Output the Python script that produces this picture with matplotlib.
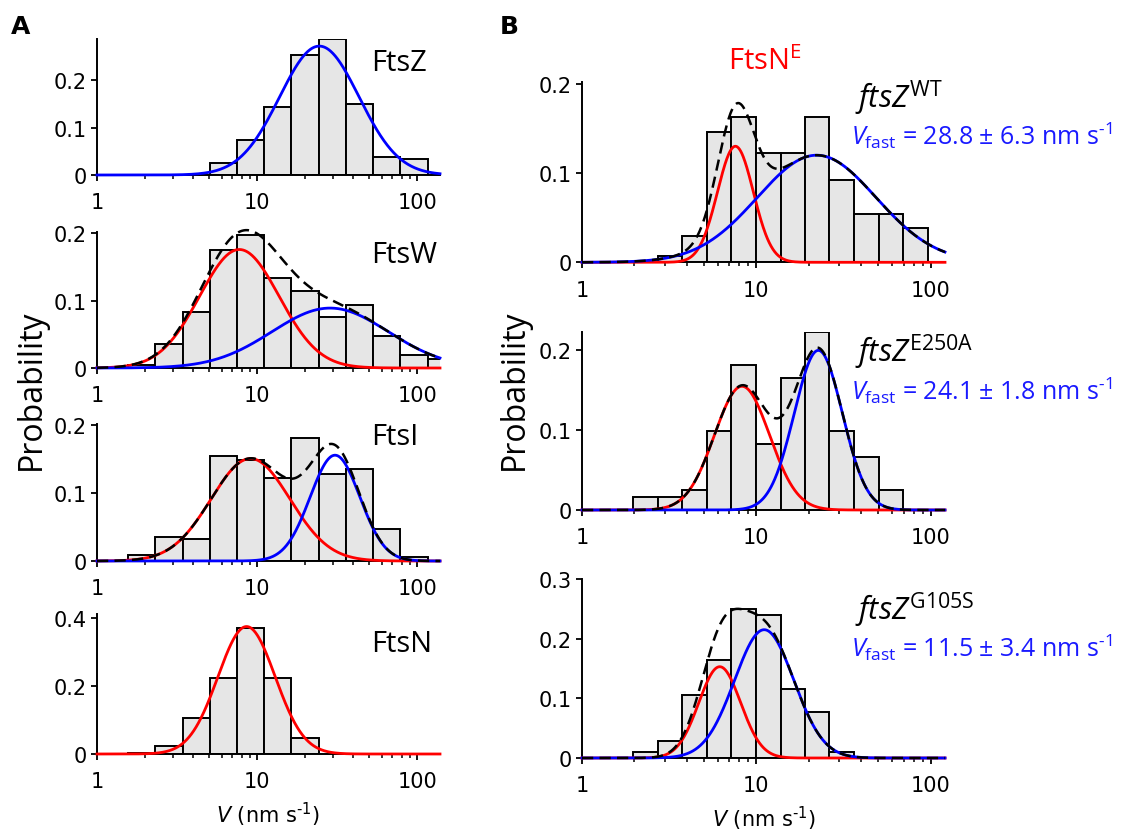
import numpy as np
import matplotlib
matplotlib.use("Agg")
import matplotlib.pyplot as plt
from matplotlib.ticker import FixedLocator, FuncFormatter, NullFormatter

plt.rcParams['font.family'] = ['DejaVu Sans']
plt.rcParams['mathtext.fontset'] = 'custom'
plt.rcParams['mathtext.rm'] = 'Open Sans'
plt.rcParams['mathtext.it'] = 'Open Sans:italic'
plt.rcParams['mathtext.bf'] = 'Open Sans:bold'

# ---------------- data ----------------
# histogram bin edges (nm/s), log-spaced
edges_a = [1.57, 2.32, 3.43, 5.08, 7.51, 11.1, 16.4, 24.3, 35.9, 53.2, 78.6, 116.3, 172.0]
edges_b = [1.97, 2.72, 3.76, 5.20, 7.19, 9.95, 13.8, 19.0, 26.3, 36.4, 50.4, 69.7, 96.4]

# panel A: probability per bin, starting at the given bin index
ftsz_start, ftsz_prob = 3, [0.026, 0.074, 0.143, 0.253, 0.286, 0.150, 0.038, 0.033]
ftsw_start, ftsw_prob = 0, [0.005, 0.035, 0.083, 0.175, 0.198, 0.134, 0.115, 0.076,
                            0.093, 0.048, 0.019, 0.013]
ftsi_start, ftsi_prob = 0, [0.009, 0.035, 0.033, 0.155, 0.149, 0.122, 0.182, 0.128,
                            0.136, 0.047, 0.006]
ftsn_start, ftsn_prob = 0, [0.004, 0.024, 0.106, 0.225, 0.371, 0.225, 0.047]

# panel B: FtsN^E in ftsZ backgrounds
wt_start, wt_prob = 1, [0.0075, 0.030, 0.1465, 0.163, 0.123, 0.122, 0.163, 0.092,
                        0.054, 0.054, 0.038]
e250a_start, e250a_prob = 0, [0.016, 0.016, 0.025, 0.099, 0.182, 0.0825, 0.165, 0.223,
                              0.099, 0.067, 0.025]
g105s_start, g105s_prob = 0, [0.0106, 0.029, 0.106, 0.164, 0.250, 0.240, 0.116, 0.077,
                              0.0106]

# log-normal fit components: (amplitude, centre in nm/s, width in decades)
ftsz_fast = (0.272, 24.5, 0.248)
ftsw_slow, ftsw_fast = (0.176, 7.75, 0.248), (0.089, 28.6, 0.363)
ftsi_slow, ftsi_fast = (0.151, 9.1, 0.246), (0.156, 30.7, 0.155)
ftsn_slow = (0.376, 8.6, 0.179)
wt_slow, wt_fast = (0.130, 7.59, 0.103), (0.120, 22.2, 0.34)
e250a_slow, e250a_fast = (0.155, 8.28, 0.158), (0.200, 22.7, 0.138)
g105s_slow, g105s_fast = (0.153, 6.17, 0.12), (0.215, 11.1, 0.17)

vfast_labels = ["28.8 \u00b1 6.3", "24.1 \u00b1 1.8", "11.5 \u00b1 3.4"]
strain_labels = ["WT", "E250A", "G105S"]

# ---------------- layout ----------------
W, H = 1127, 837
fig = plt.figure(figsize=(W / 100, H / 100), dpi=100)


def px_axes(l, t, r, b):
    return fig.add_axes([l / W, 1 - b / H, (r - l) / W, (b - t) / H])


def ftext(x, y, s, **kw):
    return fig.text(x / W, 1 - y / H, s, **kw)


def component(v, p):
    amp, c, s = p
    return amp * np.exp(-(np.log10(v) - np.log10(c)) ** 2 / (2 * s ** 2))


def draw_panel(ax, edges, start, prob, xmax, ymax, yticks, slow=None, fast=None):
    lefts = np.array(edges[start:start + len(prob)])
    rights = np.array(edges[start + 1:start + 1 + len(prob)])
    ax.bar(lefts, prob, width=rights - lefts, align='edge', color='#e6e6e6',
           edgecolor='black', linewidth=1.4, zorder=2)
    v = np.logspace(0, np.log10(xmax), 600)
    total = np.zeros_like(v)
    if slow is not None:
        y = component(v, slow)
        total += y
        ax.plot(v, y, color='#ff0000', lw=2.0, zorder=3, clip_on=False)
    if fast is not None:
        y = component(v, fast)
        total += y
        ax.plot(v, y, color='#0000ff', lw=2.0, zorder=3.1, clip_on=False)
    if slow is not None and fast is not None:
        ax.plot(v, total, color='black', lw=1.8, ls=(0, (4.5, 2.5)), zorder=3.2,
                clip_on=False)
    ax.set_xscale('log')
    ax.set_xlim(1, xmax)
    ax.set_ylim(0, ymax)
    ax.xaxis.set_major_locator(FixedLocator([1, 10, 100]))
    ax.xaxis.set_major_formatter(FuncFormatter(lambda x, p: f"{x:g}"))
    minors = [m * 10 ** k for k in range(3) for m in range(2, 10) if m * 10 ** k < xmax]
    ax.xaxis.set_minor_locator(FixedLocator(minors))
    ax.xaxis.set_minor_formatter(NullFormatter())
    ax.yaxis.set_major_locator(FixedLocator(yticks))
    ax.yaxis.set_major_formatter(FuncFormatter(lambda y, p: f"{y:g}"))
    for s in ('top', 'right'):
        ax.spines[s].set_visible(False)
    for s in ('left', 'bottom'):
        ax.spines[s].set_linewidth(1.4)
    ax.tick_params(axis='both', which='major', direction='out', length=4.5, width=1.3,
                   labelsize=15, color='black')
    ax.tick_params(axis='x', which='major', pad=8)
    ax.tick_params(axis='y', which='major', pad=3)
    ax.tick_params(axis='x', which='minor', direction='out', length=3, width=1.1)
    ax.patch.set_alpha(0)


label_font = dict(family='Open Sans', fontsize=21, va='baseline', ha='left')

# ---- panel A ----
xa_max = 139
rows_a = [
    ((97, 40, 440, 176), ftsz_start, ftsz_prob, 0.287, [0, 0.1, 0.2], None, ftsz_fast, "FtsZ", 70.7),
    ((97, 233, 440, 369), ftsw_start, ftsw_prob, 0.202, [0, 0.1, 0.2], ftsw_slow, ftsw_fast, "FtsW", 263.3),
    ((97, 425, 440, 562), ftsi_start, ftsi_prob, 0.202, [0, 0.1, 0.2], ftsi_slow, ftsi_fast, "FtsI", 445),
    ((97, 615, 440, 755), ftsn_start, ftsn_prob, 0.413, [0, 0.2, 0.4], ftsn_slow, None, "FtsN", 651.7),
]
for rect, start, prob, ymax, yt, slow, fast, name, base in rows_a:
    ax = px_axes(*rect)
    draw_panel(ax, edges_a, start, prob, xa_max, ymax, yt, slow, fast)
    ftext(371, base, name, **label_font)

# ---- panel B ----
xb_max = 121
rows_b = [
    ((582, 83, 945, 263.3), wt_start, wt_prob, 0.202, [0, 0.1, 0.2], wt_slow, wt_fast, 108, 145),
    ((582, 333, 945, 511), e250a_start, e250a_prob, 0.223, [0, 0.1, 0.2], e250a_slow, e250a_fast, 362, 400),
    ((582, 580, 945, 759), g105s_start, g105s_prob, 0.3, [0, 0.1, 0.2, 0.3], g105s_slow, g105s_fast, 620, 657),
]
for (rect, start, prob, ymax, yt, slow, fast, b1, b2), strain, vf in zip(rows_b, strain_labels, vfast_labels):
    ax = px_axes(*rect)
    draw_panel(ax, edges_b, start, prob, xb_max, ymax, yt, slow, fast)
    ftext(855, b1, r"$\mathit{ftsZ}^{\mathrm{" + strain + "}}$", fontsize=22,
          va='baseline', ha='left', color='black')
    ftext(851, b2, r"$V_{\mathrm{fast}}$ = " + vf + " nm s$^{\u2010 1}$",
          family='Open Sans', fontsize=18, va='baseline', ha='left', color='#1a1aff')

ftext(728, 70, r"FtsN$^{\mathrm{E}}$", family='Open Sans', fontsize=21,
      va='baseline', ha='left', color='#ff0000')

# axis titles
for x in (31, 514):
    ftext(x, 390, "Probability", family='Open Sans', fontsize=23, rotation=90,
          ha='center', va='center')
for x, y in ((268, 823), (764, 827)):
    ftext(x, y, "$V$ (nm s$^{\u2010 1}$)", fontsize=15, ha='center', va='baseline',
          math_fontfamily='dejavusans')

# panel letters
ftext(11, 15, "A", fontsize=18, fontweight='bold', va='top', ha='left')
ftext(500, 15, "B", fontsize=18, fontweight='bold', va='top', ha='left')

fig.savefig("out.png", dpi=100, facecolor='white')
